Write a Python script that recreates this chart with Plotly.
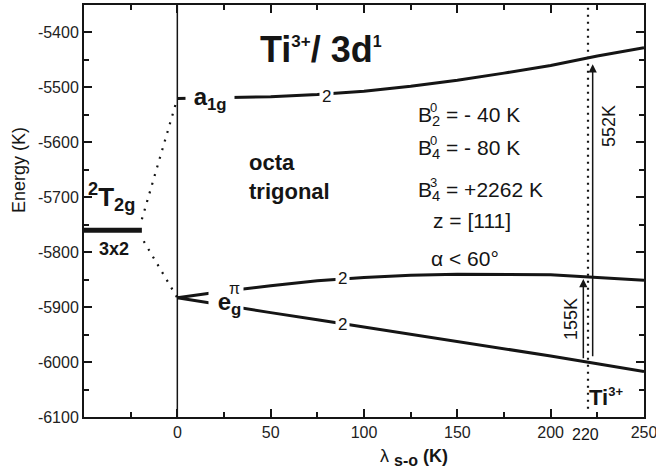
import plotly.graph_objects as go

# ---------------- data ----------------
lam = [0, 25, 50, 75, 100, 125, 150, 175, 200, 225, 250]
a1g = [-5520, -5519, -5517, -5513, -5507, -5498, -5487, -5474, -5460, -5443, -5428]
eg_upper = [-5883, -5871, -5861, -5852, -5846, -5842, -5840, -5840, -5841, -5846, -5851]
eg_lower = [-5883, -5897, -5910, -5923, -5936, -5949, -5962, -5975, -5989, -6003, -6017]

free_ion_x = [-50, -19]
free_ion_y = [-5760, -5760]
link_up_x = [-19, 0]
link_up_y = [-5740, -5520]
link_dn_x = [-18, 0]
link_dn_y = [-5780, -5883]

ti_line_x = [220, 220]
ti_line_y = [-6085, -5355]
zero_line_x = [0, 0]
zero_line_y = [-6100, -5350]

arrow_x = [217.5, 222.5]
arrow_from = [-5996, -5992]
arrow_to = [-5849, -5458]
arrow_labels = ["155K", "552K"]

x_tick_vals = [0, 50, 100, 150, 200, 250]
x_tick_text = ["0", "50", "100", "150", "200", "250"]
y_tick_vals = [-6100, -6000, -5900, -5800, -5700, -5600, -5500, -5400]
y_tick_text = ["-6100", "-6000", "-5900", "-5800", "-5700", "-5600", "-5500", "-5400"]

# ---------------- figure ----------------
FONT = "Liberation Sans, Arial, sans-serif"
INK = "#151515"
W, H = 656, 475
L, R, T, B = 84, 12, 5, 58
PW, PH = W - L - R, H - T - B


def P(px, py):
    return (px - L) / PW, (H - B - py) / PH


fig = go.Figure()


def line(x, y, width=3, dash=None):
    fig.add_trace(go.Scatter(x=x, y=y, mode="lines", hoverinfo="skip",
                             line=dict(color=INK, width=width, dash=dash),
                             showlegend=False))


line(zero_line_x, zero_line_y, width=1.5)
line(ti_line_x, ti_line_y, width=2.2, dash="2px,5px")
line(lam, a1g)
line(lam, eg_upper)
line(lam, eg_lower)
line(free_ion_x, free_ion_y, width=5)
line(link_up_x, link_up_y, width=2.2, dash="2px,7px")
line(link_dn_x, link_dn_y, width=2.2, dash="2px,7px")

ann = []


def text(px, py, s, size, bold=False, xanchor="center", bg=None, angle=0, pad=1):
    xp, yp = P(px, py)
    ann.append(dict(xref="paper", yref="paper", x=xp, y=yp, text=(f"<b>{s}</b>" if bold else s),
                    showarrow=False, xanchor=xanchor, yanchor="middle", textangle=angle,
                    font=dict(family=FONT, size=size, color=INK),
                    bgcolor=bg, borderpad=pad))


WHITE = "white"
# title
text(258, 50, "Ti<sup><span style='font-size:17px'>3+</span></sup>/ 3d<sup><span style='font-size:16px'>1</span></sup>", 36, bold=True, xanchor="left")
# level labels
text(210, 98, "&nbsp;a<sub>1g</sub>&nbsp;", 24, bold=True, bg=WHITE, pad=1)
text(326, 96, "2", 17, bg=WHITE, pad=2)
text(342, 279, "2", 17, bg=WHITE, pad=2)
text(342, 324, "2", 17, bg=WHITE, pad=2)
text(226, 303, "&nbsp;e<sub>g</sub>", 24, bold=True, bg=WHITE, pad=2)
text(234, 288, "π", 16, bg=WHITE, pad=1)
text(247, 162, "octa", 22, bold=True, xanchor="left")
text(247, 191, "trigonal", 22, bold=True, xanchor="left")
text(86, 197, "<sup>2</sup>T<sub>2g</sub>", 26, bold=True, xanchor="left")
text(114, 249, "3x2", 18, bold=True)
# parameters
text(416, 116, "B<sub>2</sub>&nbsp;= -&nbsp;40 K", 21, xanchor="left")
text(433, 107, "0", 13)
text(416, 149, "B<sub>4</sub>&nbsp;= -&nbsp;80 K", 21, xanchor="left")
text(433, 140, "0", 13)
text(416, 191, "B<sub>4</sub>&nbsp;= +2262 K", 21, xanchor="left")
text(433, 182, "3", 13)
text(431, 220, "z = [111]", 21, xanchor="left")
text(429, 258, "α &lt; 60°", 21, xanchor="left")
# arrows labels
text(609, 126, arrow_labels[1], 18, angle=-90)
text(571, 319, arrow_labels[0], 18, angle=-90)
text(587, 397, "Ti<sup><span style='font-size:13px'>3+</span></sup>", 22, bold=True, xanchor="left")
# extra tick label and axis titles
text(585, 434, "220", 16)
text(19, 170, "Energy (K)", 18, angle=-90)
text(378, 457, "λ <sub><span style='font-size:16px'><b>s-o</b></span></sub> <b>(K)</b>", 18, xanchor="left")

for xa, y0, y1 in zip(arrow_x, arrow_from, arrow_to):
    ann.append(dict(x=xa, y=y1, ax=xa, ay=y0, xref="x", yref="y", axref="x", ayref="y",
                    showarrow=True, arrowhead=2, arrowsize=1.1, arrowwidth=1.5,
                    arrowcolor=INK, text=""))

axis_common = dict(showline=True, linewidth=2, linecolor=INK, mirror="ticks",
                   ticks="inside", ticklen=8, tickwidth=1.5, tickcolor=INK,
                   showgrid=False, zeroline=False, automargin=False,
                   ticklabeloverflow="allow",
                   tickfont=dict(family=FONT, size=16, color="#222"))

fig.update_layout(
    width=W, height=H,
    margin=dict(l=L, r=R, t=T, b=B),
    paper_bgcolor="white", plot_bgcolor="white",
    showlegend=False,
    annotations=ann,
    xaxis=dict(range=[-50, 250], tickmode="array", tickvals=x_tick_vals, ticktext=x_tick_text,
               minor=dict(tickmode="linear", tick0=-50, dtick=25, ticks="inside", ticklen=5,
                          tickwidth=1.5, tickcolor=INK),
               **axis_common),
    yaxis=dict(range=[-6100, -5350], tickmode="array", tickvals=y_tick_vals, ticktext=y_tick_text,
               minor=dict(tickmode="linear", tick0=-6100, dtick=50, ticks="inside", ticklen=5,
                          tickwidth=1.5, tickcolor=INK),
               **axis_common),
)

fig.write_html("out.html", config={"displayModeBar": False},
               post_script="document.body.style.margin='0px';document.body.style.overflow='hidden';")
